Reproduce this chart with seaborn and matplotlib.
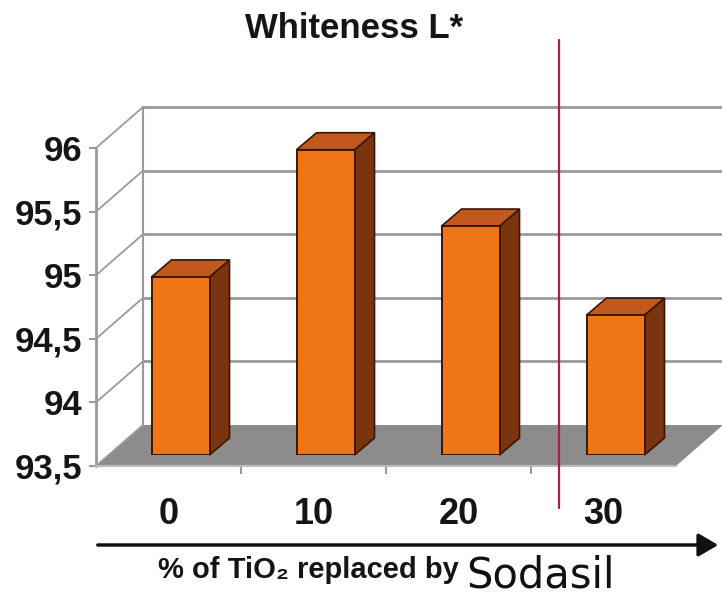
import matplotlib
matplotlib.use("Agg")
import matplotlib.pyplot as plt
from matplotlib.patches import Polygon, FancyArrowPatch
from matplotlib.lines import Line2D
import seaborn as sns
import pandas as pd

# ---- data ----
categories = ["0", "10", "20", "30"]
whiteness = [94.9, 95.9, 95.3, 94.6]
ytick_values = [93.5, 94.0, 94.5, 95.0, 95.5, 96.0]
ytick_labels = ["93,5", "94", "94,5", "95", "95,5", "96"]
title = "Whiteness L*"
xlabel_bold = "% of TiO₂ replaced by"
xlabel_plain = "Sodasil"

sns.set_theme(style="white")
FONT = ["Liberation Sans", "DejaVu Sans"]
plt.rcParams["font.family"] = FONT

W, H = 722, 597
fig = plt.figure(figsize=(W / 100, H / 100), dpi=100)
fig.patch.set_facecolor("white")

# front plane of the 3D box (pixels)
fx0, fx1, fy_bot, fy_top = 96, 676, 466, 148
ax = fig.add_axes([fx0 / W, 1 - fy_bot / H, (fx1 - fx0) / W, (fy_bot - fy_top) / H])
ymin, ymax = 93.5, 96.0
ncat = len(categories)
ax.set_xlim(-0.5, ncat - 0.5)
ax.set_ylim(ymin, ymax)
ax.set_facecolor("none")
for s in ax.spines.values():
    s.set_visible(False)

pxx = (fx1 - fx0) / ncat          # pixels per x unit
pxy = (fy_bot - fy_top) / (ymax - ymin)  # pixels per y unit
ddx, ddy = 47 / pxx, 41 / pxy     # depth of the box in data units

grid_c = "#9a9a9a"
# floor
ax.add_patch(Polygon([(-0.5, ymin), (ncat - 0.5, ymin), (ncat - 0.5 + ddx, ymin + ddy),
                      (-0.5 + ddx, ymin + ddy)], closed=True, facecolor="#8c8c8c",
                     edgecolor="none", clip_on=False, zorder=1))
# back wall gridlines + left wall connectors
for yv in ytick_values:
    if yv > ymin:
        ax.add_line(Line2D([-0.5 + ddx, ncat - 0.5 + ddx], [yv + ddy, yv + ddy], color=grid_c,
                           lw=2.0, clip_on=False, zorder=2))
    ax.add_line(Line2D([-0.5, -0.5 + ddx], [yv, yv + ddy], color=grid_c, lw=1.3,
                       clip_on=False, zorder=2))
# back wall left edge and front axis line
ax.add_line(Line2D([-0.5 + ddx] * 2, [ymin + ddy, ymax + ddy], color=grid_c, lw=1.5,
                   clip_on=False, zorder=2))
ax.add_line(Line2D([-0.5, -0.5], [ymin, ymax], color=grid_c, lw=2.0, clip_on=False, zorder=3))
ax.add_line(Line2D([-0.5, ncat - 0.5], [ymin, ymin], color="#bdbdbd", lw=1.5, clip_on=False, zorder=3))

# ticks
ax.set_yticks(ytick_values)
ax.set_yticklabels(ytick_labels, fontsize=25, fontweight="bold", color="#151515")
ax.tick_params(axis="y", length=5, width=1.5, color=grid_c, pad=5, left=True)
ax.set_xticks(range(ncat))
ax.set_xticklabels(categories, fontsize=26, fontweight="bold", color="#151515")
ax.tick_params(axis="x", length=0, pad=22)
ax.set_xticks([i + 0.5 for i in range(ncat - 1)], minor=True)
ax.tick_params(axis="x", which="minor", length=6, width=1.5, color=grid_c, bottom=True)

# bars on an axes shifted into depth
bx, by = 12, 11
axb = fig.add_axes([(fx0 + bx) / W, 1 - (fy_bot - by) / H, (fx1 - fx0) / W, (fy_bot - fy_top) / H])
axb.set_facecolor("none")
df = pd.DataFrame({"pct": categories, "L": whiteness})
front_c, side_c, top_c, edge_c = "#F07514", "#7A3510", "#C3581C", "#3A1600"
sns.barplot(data=df, x="pct", y="L", ax=axb, color=front_c, width=0.4, saturation=1,
            edgecolor=edge_c, linewidth=1.4, zorder=5)
axb.set_xlim(-0.5, ncat - 0.5)
axb.set_ylim(ymin, ymax)
axb.axis("off")
bdx, bdy = 20 / pxx, 17 / pxy
for p in list(axb.patches):
    top = p.get_y() + p.get_height()
    p.set_y(ymin)
    p.set_height(top - ymin)
    x0 = p.get_x(); x1 = x0 + p.get_width()
    axb.add_patch(Polygon([(x1, ymin), (x1, top), (x1 + bdx, top + bdy), (x1 + bdx, ymin + bdy)],
                          closed=True, facecolor=side_c, edgecolor=edge_c, lw=1.2,
                          clip_on=False, zorder=4))
    axb.add_patch(Polygon([(x0, top), (x1, top), (x1 + bdx, top + bdy), (x0 + bdx, top + bdy)],
                          closed=True, facecolor=top_c, edgecolor=edge_c, lw=1.2,
                          clip_on=False, zorder=4))

# title
fig.text(354 / W, 1 - 29 / H, title, ha="center", va="center", fontsize=25,
         fontweight="bold", color="#151515")
# red separator line
fig.add_artist(Line2D([559 / W] * 2, [1 - 40 / H, 1 - 508 / H], color="#A8203A", lw=1.6))
# axis arrow
fig.add_artist(FancyArrowPatch((95 / W, 1 - 545 / H), (721 / W, 1 - 545 / H),
               transform=fig.transFigure, arrowstyle="-|>,head_length=0.6,head_width=0.35",
               mutation_scale=20, color="#111111", lw=2.5))
# x label
fig.text(158 / W, 1 - 578 / H, xlabel_bold, ha="left", va="baseline", fontsize=21,
         fontweight="bold", color="#151515")
fig.text(466 / W, 1 - 588 / H, xlabel_plain, ha="left", va="baseline", fontsize=30,
         color="#111111", family=["DejaVu Sans"])

fig.savefig("out.png", dpi=100)
